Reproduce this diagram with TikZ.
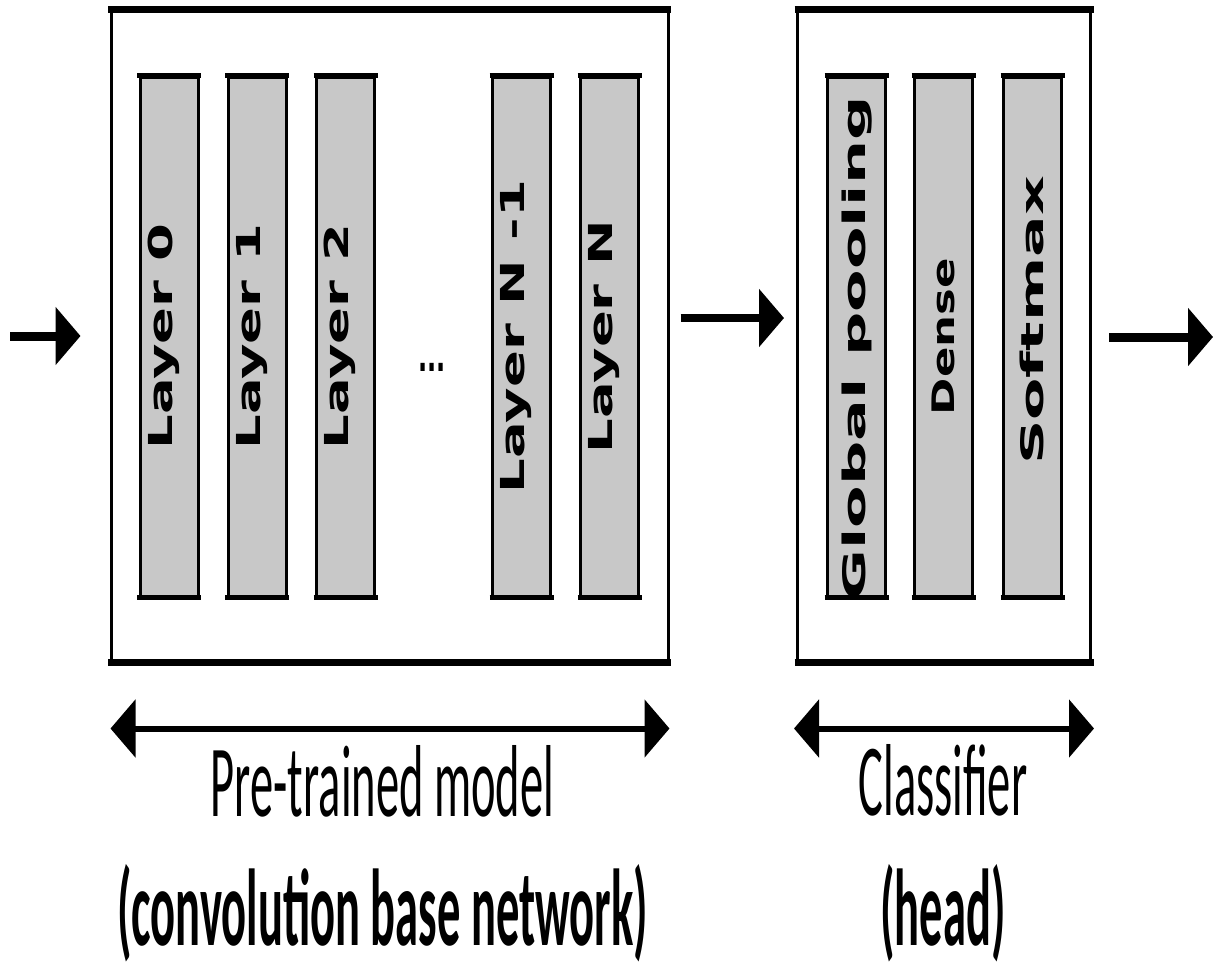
\documentclass[tikz,border=0pt]{standalone}
\usepackage{fontspec}
\setmainfont{Carlito}
\newfontfamily\labelfont{DejaVu Sans}
\usetikzlibrary{arrows.meta}
\definecolor{layergray}{RGB}{200,200,200}
\begin{document}
\begin{tikzpicture}[x=1pt,y=-1pt,
  outerbox/.style={draw, line width=3pt, inner sep=0pt, minimum height=650pt},
  layerbox/.style={draw, fill=layergray, line width=3pt, inner sep=0pt, minimum width=58pt, minimum height=519pt},
  thickedge/.style={line width=6.5pt},
  layerlab/.style={rotate=90, anchor=base, inner sep=0pt, font=\labelfont\bfseries\fontsize{33}{33}\selectfont},
  headlab/.style={rotate=90, anchor=base, inner sep=0pt, font=\labelfont\bfseries\fontsize{31}{31}\selectfont},
  bigarrow/.style={line width=9pt, -{Triangle[length=25pt,width=57pt]}},
  spanarrow/.style={line width=6pt, {Triangle[length=25pt,width=57pt]}-{Triangle[length=25pt,width=57pt]}},
  caption/.style={anchor=base, inner sep=0pt, font=\fontsize{46.5}{46.5}\selectfont}
]
\useasboundingbox (0,0) rectangle (1213,964);

% outer boxes
\node[outerbox, minimum width=557pt] (base) at (389.5,336) {};
\node[outerbox, minimum width=293pt] (head) at (944,336) {};
\foreach \b in {base,head}{
  \draw[thickedge] ([xshift=-1.5pt]\b.north west) -- ([xshift=1.5pt]\b.north east);
  \draw[thickedge] ([xshift=-1.5pt]\b.south west) -- ([xshift=1.5pt]\b.south east);
}

% layer boxes
\node[layerbox] (l0) at (169,336.5) {};
\node[layerbox] (l1) at (257,336.5) {};
\node[layerbox] (l2) at (345.5,336.5) {};
\node[layerbox] (ln1) at (521.5,336.5) {};
\node[layerbox] (ln) at (609.5,336.5) {};
\node[layerbox] (gp) at (856.5,336.5) {};
\node[layerbox] (de) at (943.5,336.5) {};
\node[layerbox] (sm) at (1032.5,336.5) {};
\foreach \b in {l0,l1,l2,ln1,ln,gp,de,sm}{
  \draw[line width=5pt] ([xshift=-1.5pt]\b.north west) -- ([xshift=1.5pt]\b.north east);
  \draw[line width=5pt] ([xshift=-1.5pt]\b.south west) -- ([xshift=1.5pt]\b.south east);
}

% labels
\node[layerlab] (t0) at ([xshift=3pt]l0.center) {\scalebox{1.65}[1]{Layer 0}};
\node[layerlab] (t1) at ([xshift=3pt]l1.center) {\scalebox{1.65}[1]{Layer 1}};
\node[layerlab] (t2) at ([xshift=3pt]l2.center) {\scalebox{1.65}[1]{Layer 2}};
\node[layerlab] (tn1) at ([xshift=3pt]ln1.center) {\scalebox{1.65}[1]{Layer N -1}};
\node[layerlab] (tn) at ([xshift=3pt]ln.center) {\scalebox{1.65}[1]{Layer N}};
\node[headlab] (tgp) at ([xshift=8.5pt,yshift=-12pt]gp.center) {\scalebox{2.0}[1]{Global pooling}};
\node[headlab] (tde) at ([xshift=11pt]de.center) {\scalebox{1.45}[1]{Dense}};
\node[headlab] (tsm) at ([xshift=11pt,yshift=16pt]sm.center) {\scalebox{1.99}[1]{Softmax}};
\node[inner sep=0pt, font=\labelfont\bfseries\fontsize{24}{24}\selectfont] (dots) at (432,367) {\scalebox{1}[1.8]{...}};

% flow arrows
\coordinate (in) at (10,336);
\coordinate (out) at (1213,337);
\draw[bigarrow, shorten >=29pt] (in) -- (base.west);
\draw[bigarrow, line width=8pt, shorten <=11pt, shorten >=12pt] ([yshift=18pt]base.east) -- ([yshift=18pt]head.west);
\draw[bigarrow, shorten <=17pt] (head.east |- out) -- (out);

% span arrows
\path (base.south west) ++(1,66) coordinate (pa);
\path (base.south east) ++(0,66) coordinate (pb);
\path (head.south west) ++(-2,66) coordinate (ha);
\path (head.south east) ++(2,66) coordinate (hb);
\draw[spanarrow] (pa) -- (pb);
\draw[spanarrow] (ha) -- (hb);

% captions
\node[caption] (c1) at (382.5,816) {\scalebox{1}[2.2]{Pre-trained model}};
\node[caption] (c2) at (382.5,945) {\scalebox{1}[2.35]{\bfseries (convolution base network)}};
\node[caption] (c3) at (943,815) {\scalebox{1}[2.2]{Classifier}};
\node[caption] (c4) at (943,945) {\scalebox{1}[2.35]{\bfseries (head)}};
\end{tikzpicture}
\end{document}
